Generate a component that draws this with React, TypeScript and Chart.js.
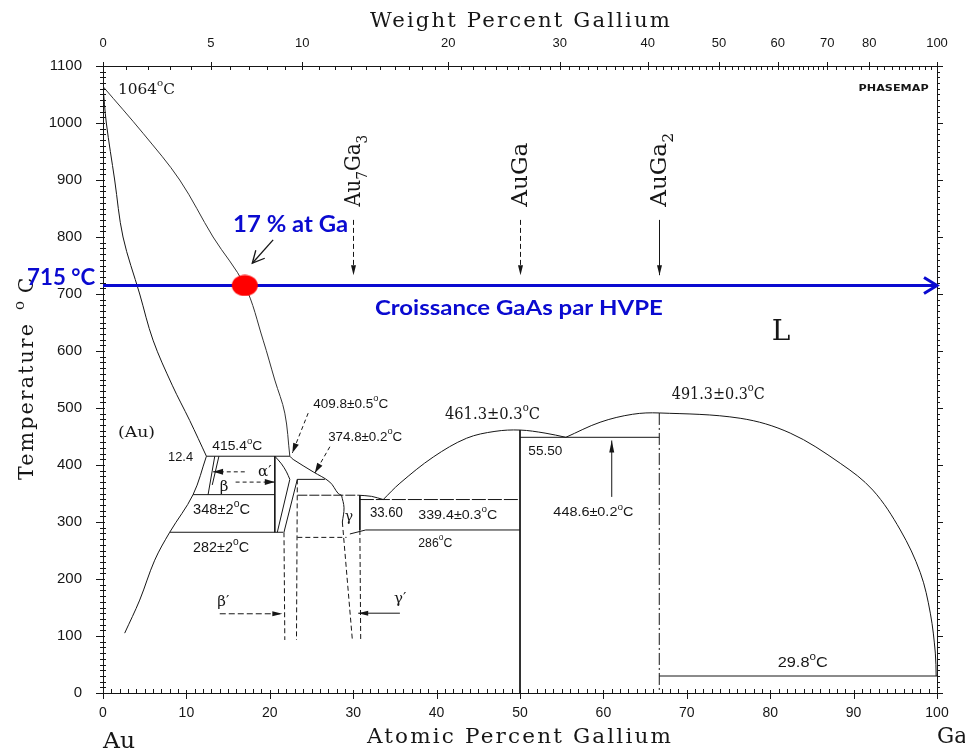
import React, { useEffect, useRef } from 'react';
import { Chart, registerables } from 'chart.js';

Chart.register(...registerables);

type P = [number, number];
type Seg = { t: string; k?: 'sup' | 'sub' };

// ---------- axes ----------
const atomicTicks = [0, 10, 20, 30, 40, 50, 60, 70, 80, 90, 100];
const weightTicks = [0, 5, 10, 20, 30, 40, 50, 60, 70, 80, 100];
const tempMin = 0;
const tempMax = 1100;

// ---------- phase boundaries (x = at.% Ga, y = °C) ----------
const liquidusAu: P[] = [[0, 1064], [4.8, 982], [9.2, 900], [13.2, 800], [17, 715], [19.2, 619], [20.6, 549], [21.8, 491], [22.4, 415.4]];
const solidusAu: P[] = [[0, 1064], [0.4, 1000], [1.4, 900], [2.4, 800], [4.4, 700], [6, 619], [8.3, 540], [10.4, 478], [12.4, 415.4]];
const solvusAu: P[] = [[12.4, 415.4], [10.8, 348], [8, 282], [6.2, 233], [4.4, 163], [2.6, 105]];
const liquidusMid: P[] = [[22.4, 415.4], [22.8, 409.8], [25.2, 388], [27.2, 370], [28.2, 350], [28.6, 347]];
const liquidusGamma: P[] = [[30.6, 347], [32.2, 345], [33.6, 339.4]];
const liquidusAuGaLeft: P[] = [[33.6, 339.4], [35.6, 368], [39.6, 414], [43.6, 447], [47, 459], [50, 461.3], [53, 456], [55.5, 448.6]];
const liquidusAuGaRight: P[] = [[55.5, 448.6], [59.6, 475], [63.5, 489], [66.7, 491.3], [76.4, 482], [82.4, 456], [88.4, 403], [92.3, 356], [95.6, 286], [98, 211], [99.2, 140], [99.8, 70], [99.9, 29.8]];
const alphaCurve: P[] = [[20.6, 415.4], [21.4, 402], [22.0, 388], [22.4, 374.8]];
const gammaLeft: P[] = [[28.6, 347], [28.9, 325], [28.7, 300]];

const eut415: P[] = [[12.4, 415.4], [22.4, 415.4]];
const eut348: P[] = [[10.8, 348], [20.6, 348]];
const eut282: P[] = [[8, 282], [21.6, 282]];
const vert206: P[] = [[20.6, 415.4], [20.6, 282]];
const beta1: P[] = [[12.6, 348], [13.4, 415.4]];
const beta2: P[] = [[13.1, 365], [13.9, 415.4]];
const alpha2: P[] = [[22.4, 374.8], [20.9, 282]];
const alpha3: P[] = [[23.3, 374.8], [21.7, 282]];
const per374: P[] = [[23.3, 374.8], [26.6, 374.8]];
const line347: P[] = [[23.3, 347], [30.6, 347]];
const gammaRight: P[] = [[30.8, 347], [30.8, 286]];
const eut339: P[] = [[30.8, 339.4], [50, 339.4]];
const line286: P[] = [[29.6, 279], [31.5, 286], [50, 286]];
const line273: P[] = [[23.3, 273], [29.2, 273]];
const betaPrimeL: P[] = [[21.7, 282], [21.8, 93]];
const betaPrimeR: P[] = [[23.3, 374.8], [23.2, 93]];
const gammaPrimeL: P[] = [[28.7, 300], [29.9, 93]];
const gammaPrimeR: P[] = [[30.8, 286], [30.9, 93]];
const eut448: P[] = [[50, 448.6], [66.7, 448.6]];
const eut298: P[] = [[66.7, 29.8], [100, 29.8]];
const vertAuGa: P[] = [[50, 461.3], [50, 0]];
const vertAuGa2: P[] = [[66.7, 491.3], [66.7, 0]];

// ---------- growth annotation ----------
const growthLine: P[] = [[0, 715], [100, 715]];
const growthPoint: P[] = [[17, 715]];

// ---------- compounds ----------
const compoundNames = ['Au7Ga3', 'AuGa', 'AuGa2'];
const compoundX = [30, 50, 66.7];

const SANS = '"Liberation Sans", Arial, sans-serif';
const SERIF = '"DejaVu Serif", "Liberation Serif", serif';
const BLUEF = 'Lato, "Open Sans", sans-serif';
const INK = '#161616';
const BLUE = '#0a0ad0';

const M_AU = 196.97;
const M_GA = 69.72;
function wtToAt(w: number) {
  if (w <= 0) return 0;
  if (w >= 100) return 100;
  const g = w / M_GA;
  const a = (100 - w) / M_AU;
  return (100 * g) / (g + a);
}

const deg = (s: string): Seg[] => [{ t: s }, { t: 'o', k: 'sup' }, { t: 'C' }];

function drawRich(ctx: CanvasRenderingContext2D, segs: Seg[], x: number, y: number, o: any) {
  const fontFor = (k?: string) => `${o.weight || 'normal'} ${k ? Math.round(o.size * 0.68) : o.size}px ${o.family}`;
  ctx.save();
  ctx.textBaseline = o.baseline || 'middle';
  ctx.textAlign = 'left';
  if (o.spacing && 'letterSpacing' in ctx) (ctx as any).letterSpacing = `${o.spacing}px`;
  let total = 0;
  const ws: number[] = [];
  for (const s of segs) {
    ctx.font = fontFor(s.k);
    const w = ctx.measureText(s.t).width;
    ws.push(w);
    total += w;
  }
  const sx = o.width ? o.width / total : 1;
  ctx.translate(x, y);
  if (o.rotate) ctx.rotate(o.rotate);
  ctx.scale(sx, 1);
  let cx = o.align === 'center' ? -total / 2 : 0;
  ctx.fillStyle = o.color || INK;
  segs.forEach((s, i) => {
    ctx.font = fontFor(s.k);
    const dy = s.k === 'sup' ? -o.size * 0.42 : s.k === 'sub' ? o.size * 0.3 : 0;
    ctx.fillText(s.t, cx, dy);
    cx += ws[i];
  });
  ctx.restore();
}

function arrow(ctx: CanvasRenderingContext2D, x1: number, y1: number, x2: number, y2: number, o: any) {
  const color = o.color || INK;
  ctx.save();
  ctx.strokeStyle = color;
  ctx.fillStyle = color;
  ctx.lineWidth = o.lw || 1;
  ctx.setLineDash(o.dash || []);
  ctx.beginPath();
  ctx.moveTo(x1, y1);
  ctx.lineTo(x2, y2);
  ctx.stroke();
  ctx.setLineDash([]);
  const a = Math.atan2(y2 - y1, x2 - x1);
  const hl = o.hl || 8;
  const hw = o.hw || 3;
  const bx = x2 - hl * Math.cos(a);
  const by = y2 - hl * Math.sin(a);
  const px = -Math.sin(a) * hw;
  const py = Math.cos(a) * hw;
  ctx.beginPath();
  if (o.head === 'open') {
    ctx.lineWidth = o.hlw || o.lw || 1;
    ctx.moveTo(bx + px, by + py);
    ctx.lineTo(x2, y2);
    ctx.lineTo(bx - px, by - py);
    ctx.stroke();
  } else {
    ctx.moveTo(x2, y2);
    ctx.lineTo(bx + px, by + py);
    ctx.lineTo(bx - px, by - py);
    ctx.closePath();
    ctx.fill();
  }
  ctx.restore();
}

// annotation table (data coordinates)
const notes: any[] = [
  { x: 1.8, y: 1058, s: deg('1064'), size: 15, family: SERIF, width: 57 },
  { x: 1.8, y: 456, s: [{ t: '(Au)' }], size: 15, family: SERIF, width: 37 },
  { x: 7.8, y: 414, s: [{ t: '12.4' }], size: 13, family: SANS, width: 25 },
  { x: 13.1, y: 432, s: deg('415.4'), size: 13, family: SANS, width: 50 },
  { x: 10.8, y: 321, s: deg('348±2'), size: 14, family: SANS, width: 57 },
  { x: 10.8, y: 254, s: deg('282±2'), size: 14, family: SANS, width: 56 },
  { x: 18.6, y: 388, s: [{ t: 'α\u2032' }], size: 15, family: SERIF },
  { x: 14.0, y: 362, s: [{ t: 'β' }], size: 15, family: SERIF },
  { x: 25.2, y: 507, s: deg('409.8±0.5'), size: 13, family: SANS, width: 75 },
  { x: 27.0, y: 449, s: deg('374.8±0.2'), size: 13, family: SANS, width: 74 },
  { x: 29.0, y: 308, s: [{ t: 'γ' }], size: 14, family: SERIF },
  { x: 32.0, y: 316, s: [{ t: '33.60' }], size: 14, family: SANS, width: 33 },
  { x: 37.8, y: 312, s: deg('339.4±0.3'), size: 13, family: SANS, width: 79 },
  { x: 37.8, y: 263, s: deg('286'), size: 13, family: SANS, width: 34 },
  { x: 41.0, y: 488, s: deg('461.3±0.3'), size: 16, family: SERIF, width: 95 },
  { x: 51.0, y: 423, s: [{ t: '55.50' }], size: 13, family: SANS, width: 34 },
  { x: 54.0, y: 316, s: deg('448.6±0.2'), size: 13, family: SANS, width: 80 },
  { x: 68.2, y: 523, s: deg('491.3±0.3'), size: 16, family: SERIF, width: 93 },
  { x: 80.9, y: 53, s: deg('29.8'), size: 14, family: SANS, width: 50 },
  { x: 13.7, y: 160, s: [{ t: 'β\u2032' }], size: 15, family: SERIF },
  { x: 34.9, y: 164, s: [{ t: 'γ\u2032' }], size: 15, family: SERIF },
  { x: 90.6, y: 1061, s: [{ t: 'PHASEMAP' }], size: 9, family: '"DejaVu Sans", sans-serif', weight: 'bold', width: 70 },
  { x: 80.2, y: 632, s: [{ t: 'L' }], size: 28, family: SERIF },
];

const arrows: any[] = [
  { a: [17.0, 388], b: [13.2, 388], dash: [4, 3], head: 'fill', hl: 10, hw: 3 },
  { a: [15.9, 370], b: [20.6, 370], dash: [4, 3], head: 'fill', hl: 10, hw: 3 },
  { a: [24.6, 491], b: [22.7, 421], dash: [4, 3], head: 'fill', hl: 10, hw: 3 },
  { a: [27.2, 432], b: [25.4, 386], dash: [4, 3], head: 'fill', hl: 10, hw: 3 },
  { a: [61.0, 344], b: [61.0, 443], dash: [], head: 'fill', hl: 12, hw: 2.5 },
  { a: [14.0, 139], b: [21.5, 139], dash: [6, 3], head: 'fill', hl: 10, hw: 2.5 },
  { a: [35.6, 140], b: [30.6, 140], dash: [], head: 'fill', hl: 10, hw: 2.5 },
];

const seg = (data: P[], extra: any = {}) => ({
  data: data.map(([x, y]) => ({ x, y })),
  showLine: true,
  pointRadius: 0,
  borderColor: INK,
  borderWidth: 1,
  tension: 0,
  fill: false,
  ...extra,
});

const overlay = {
  id: 'overlay',
  afterDraw(chart: any) {
    const ctx: CanvasRenderingContext2D = chart.ctx;
    const xs = chart.scales.x;
    const ys = chart.scales.y;
    const X = (v: number) => xs.getPixelForValue(v);
    const Y = (v: number) => ys.getPixelForValue(v);
    const { left, right, top, bottom } = chart.chartArea;
    ctx.save();
    ctx.strokeStyle = INK;
    ctx.lineWidth = 1;
    const ln = (x1: number, y1: number, x2: number, y2: number) => {
      ctx.beginPath();
      ctx.moveTo(x1, y1);
      ctx.lineTo(x2, y2);
      ctx.stroke();
    };
    // right border
    ln(right + 0.5, top, right + 0.5, bottom);
    // left + right ticks
    for (let v = tempMin; v <= tempMax; v += 10) {
      const y = Math.round(Y(v)) + 0.5;
      if (v % 100 === 0) {
        ln(left - 7, y, left + 2, y);
        ln(right, y, right + 6, y);
      } else {
        ln(left - 3, y, left + 3, y);
        ln(right, y, right + 3, y);
      }
    }
    // bottom ticks
    for (let v = 0; v <= 100; v += 1) {
      const x = Math.round(X(v)) + 0.5;
      if (atomicTicks.includes(v)) ln(x, bottom - 3, x, bottom + 6);
      else ln(x, bottom - 4, x, bottom);
    }
    // top ticks (weight %)
    for (let w = 0; w <= 100; w += w < 70 ? 1 : 2) {
      const x = Math.round(X(wtToAt(w))) + 0.5;
      if (weightTicks.includes(w)) ln(x, top - 4, x, top + 4);
      else ln(x, top, x, top + 4);
    }
    ctx.restore();

    // axis titles
    drawRich(ctx, [{ t: 'Weight Percent Gallium' }], 370, 27, { size: 20, family: SERIF, baseline: 'alphabetic', width: 302, spacing: 2 });
    drawRich(ctx, [{ t: 'Atomic Percent Gallium' }], 367, 743, { size: 20, family: SERIF, baseline: 'alphabetic', width: 306, spacing: 2 });
    drawRich(ctx, [{ t: 'Au' }], 103, 748, { size: 22, family: SERIF, baseline: 'alphabetic', width: 32 });
    drawRich(ctx, [{ t: 'Ga' }], 937, 743, { size: 22, family: SERIF, baseline: 'alphabetic', width: 30 });
    drawRich(ctx, [{ t: 'Temperature' }], 33, 480, { size: 20, family: SERIF, baseline: 'alphabetic', width: 158, spacing: 2, rotate: -Math.PI / 2 });
    drawRich(ctx, [{ t: 'o' }], 24, 310, { size: 15, family: SERIF, baseline: 'alphabetic', rotate: -Math.PI / 2 });
    drawRich(ctx, [{ t: 'C' }], 33, 293, { size: 20, family: SERIF, baseline: 'alphabetic', rotate: -Math.PI / 2 });

    // phase diagram notes
    for (const n of notes) {
      drawRich(ctx, n.s, X(n.x), Y(n.y), { size: n.size, family: n.family, width: n.width, weight: n.weight });
    }
    for (const a of arrows) {
      arrow(ctx, X(a.a[0]), Y(a.a[1]), X(a.b[0]), Y(a.b[1]), { dash: a.dash, head: a.head, hl: a.hl, hw: a.hw });
    }

    // compounds
    compoundNames.forEach((name, i) => {
      const x = X(compoundX[i]);
      const segs: Seg[] = name === 'Au7Ga3'
        ? [{ t: 'Au' }, { t: '7', k: 'sub' }, { t: 'Ga' }, { t: '3', k: 'sub' }]
        : name === 'AuGa2'
          ? [{ t: 'AuGa' }, { t: '2', k: 'sub' }]
          : [{ t: 'AuGa' }];
      const w = name === 'Au7Ga3' ? 72 : name === 'AuGa2' ? 74 : 64;
      drawRich(ctx, segs, x + 7, Y(853), { size: 22, family: SERIF, baseline: 'alphabetic', width: w, rotate: -Math.PI / 2 });
      arrow(ctx, Math.round(x) + 0.5, Y(830), Math.round(x) + 0.5, Y(733), { dash: i === 2 ? [] : [5, 3], head: 'fill', hl: 10, hw: 2.5 });
    });

    // blue growth annotations
    const gy = Y(growthLine[0][1]);
    const gx = X(growthLine[1][0]);
    ctx.save();
    ctx.strokeStyle = BLUE;
    ctx.lineWidth = 3;
    ctx.beginPath();
    ctx.moveTo(gx - 13, gy - 8);
    ctx.lineTo(gx, gy);
    ctx.lineTo(gx - 13, gy + 8);
    ctx.stroke();
    ctx.restore();
    drawRich(ctx, [{ t: '715 °C' }], X(-9.1), Y(729), { size: 22, family: BLUEF, weight: 'bold', color: BLUE, width: 68 });
    drawRich(ctx, [{ t: '17 % at Ga' }], X(15.6), Y(821), { size: 22, family: BLUEF, weight: 'bold', color: BLUE, width: 115 });
    drawRich(ctx, [{ t: 'Croissance GaAs par HVPE' }], X(32.6), Y(675), { size: 21, family: BLUEF, weight: 'bold', color: BLUE, width: 288 });
    arrow(ctx, X(20.4), Y(795), X(17.9), Y(754), { head: 'open', hl: 12, hw: 6, lw: 1.3 });
  },
};

export default function App() {
  const ref = useRef<HTMLCanvasElement | null>(null);
  useEffect(() => {
    document.body.style.margin = '0';
    const canvas = ref.current;
    if (!canvas) return;

    const dot = document.createElement('canvas');
    dot.width = 28;
    dot.height = 22;
    const dc = dot.getContext('2d')!;
    dc.fillStyle = '#ff0000';
    dc.beginPath();
    dc.ellipse(14, 11, 13, 10.5, 0, 0, Math.PI * 2);
    dc.fill();

    const curve = { tension: 0.35 };
    const dashed = { borderDash: [5, 3] };

    const chart = new Chart(canvas, {
      type: 'scatter',
      data: {
        datasets: [
          { data: growthPoint.map(([x, y]) => ({ x, y })), pointStyle: dot as any, pointRadius: 11, showLine: false },
          seg(growthLine, { borderColor: BLUE, borderWidth: 3 }),
          seg(liquidusAu, { ...curve, borderColor: '#333' }),
          seg(solidusAu, curve),
          seg(solvusAu, curve),
          seg(liquidusMid, curve),
          seg(liquidusGamma, curve),
          seg(liquidusAuGaLeft, curve),
          seg(liquidusAuGaRight, curve),
          seg(alphaCurve, curve),
          seg(gammaLeft, curve),
          seg(eut415),
          seg(eut348),
          seg(eut282),
          seg(vert206),
          seg(beta1),
          seg(beta2),
          seg(alpha2),
          seg(alpha3),
          seg(per374),
          seg(line347, { borderDash: [10, 2] }),
          seg(gammaRight),
          seg(eut339, { borderDash: [14, 2] }),
          seg(line286),
          seg(line273, dashed),
          seg(betaPrimeL, dashed),
          seg(betaPrimeR, dashed),
          seg(gammaPrimeL, dashed),
          seg(gammaPrimeR, dashed),
          seg(eut448),
          seg(eut298),
          seg(vertAuGa),
          seg(vertAuGa2, { borderDash: [12, 3, 2, 3] }),
        ],
      },
      options: {
        animation: false,
        responsive: false,
        devicePixelRatio: 1,
        layout: { padding: { left: 0, right: 28, top: 0, bottom: 0 } },
        plugins: { legend: { display: false }, tooltip: { enabled: false } },
        scales: {
          x: {
            type: 'linear',
            position: 'bottom',
            min: 0,
            max: 100,
            afterFit: (s: any) => { s.height = 59; },
            afterBuildTicks: (s: any) => { s.ticks = atomicTicks.map((v) => ({ value: v })); },
            ticks: { autoSkip: false, maxRotation: 0, padding: 4, color: INK, font: { family: SANS, size: 14 }, callback: (v: any) => String(v) },
            grid: { display: false },
            border: { color: INK, width: 1 },
          },
          x2: {
            type: 'linear',
            position: 'top',
            min: 0,
            max: 100,
            afterFit: (s: any) => { s.height = 66; },
            afterBuildTicks: (s: any) => { s.ticks = weightTicks.map((w) => ({ value: wtToAt(w) })); },
            ticks: { autoSkip: false, maxRotation: 0, padding: 7, color: INK, font: { family: SANS, size: 13 }, callback: (_v: any, i: number) => String(weightTicks[i]) },
            grid: { display: false },
            border: { color: INK, width: 1 },
          },
          y: {
            type: 'linear',
            position: 'left',
            min: tempMin,
            max: tempMax,
            afterFit: (s: any) => { s.width = 103; },
            ticks: { stepSize: 100, autoSkip: false, padding: 13, color: INK, font: { family: SANS, size: 15 }, callback: (v: any) => String(v) },
            grid: { display: false },
            border: { color: INK, width: 1 },
          },
        },
      },
      plugins: [overlay],
    } as any);
    return () => chart.destroy();
  }, []);
  return <canvas ref={ref} width={965} height={752} style={{ display: 'block', width: 965, height: 752 }} />;
}
